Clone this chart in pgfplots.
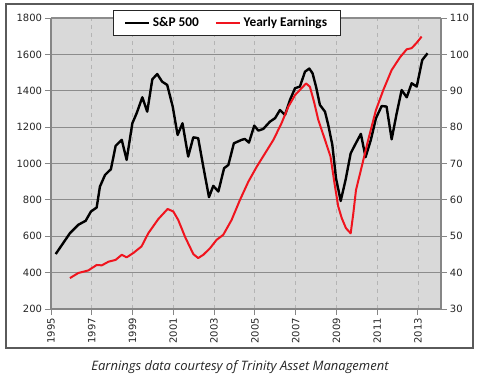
\documentclass[border=0pt]{standalone}
\usepackage{fontspec}
\setmainfont{DejaVu Sans}
\newfontfamily\legfont{Carlito}
\newfontfamily\capfont{Open Sans}
\usepackage{pgfplots}
\pgfplotsset{compat=1.18}
\definecolor{plotbg}{HTML}{D9D9D9}
\definecolor{hgrid}{HTML}{8C8C8C}
\definecolor{vgrid}{HTML}{B4B4B4}
\definecolor{axgray}{HTML}{868686}
\definecolor{frame}{HTML}{5A5A5A}
\definecolor{earn}{HTML}{F0141E}

\pgfplotstableread{
x y
1995.23 502
1995.93 617
1996.34 663
1996.70 685
1996.96 736
1997.24 758
1997.40 873
1997.65 937
1997.94 969
1998.17 1097
1998.47 1130
1998.71 1020
1998.99 1221
1999.20 1276
1999.48 1364
1999.72 1285
1999.97 1463
2000.21 1492
2000.45 1450
2000.70 1432
2000.97 1313
2001.21 1157
2001.45 1221
2001.73 1038
2001.98 1144
2002.22 1139
2002.47 983
2002.75 815
2002.96 877
2003.21 846
2003.49 974
2003.70 992
2003.97 1111
2004.35 1130
2004.51 1135
2004.71 1115
2004.97 1208
2005.17 1181
2005.41 1190
2005.74 1230
2005.99 1249
2006.23 1294
2006.48 1267
2006.72 1349
2006.97 1414
2007.21 1423
2007.46 1505
2007.67 1522
2007.83 1496
2008.00 1423
2008.19 1322
2008.44 1285
2008.60 1212
2008.80 1102
2008.98 919
2009.21 794
2009.45 910
2009.70 1056
2009.91 1102
2010.20 1163
2010.43 1035
2010.69 1130
2010.94 1249
2011.22 1316
2011.46 1313
2011.71 1133
2011.95 1272
2012.20 1404
2012.45 1364
2012.69 1441
2012.94 1423
2013.21 1569
2013.47 1606
}\spdata

\pgfplotstableread{
x y
1995.93 38.5
1996.34 39.9
1996.83 40.6
1997.24 42.1
1997.49 42.0
1997.82 43.0
1998.17 43.5
1998.47 44.9
1998.71 44.2
1999.04 45.4
1999.44 47.2
1999.77 50.8
2000.26 54.7
2000.72 57.5
2001.00 56.8
2001.24 54.5
2001.57 49.9
2001.98 45.1
2002.22 44.0
2002.47 44.9
2002.80 46.7
2003.12 49.0
2003.45 50.4
2003.86 54.5
2004.27 60.0
2004.68 65.0
2005.09 69.1
2005.50 72.8
2005.91 76.5
2006.31 81.1
2006.64 85.6
2006.97 88.8
2007.29 90.7
2007.51 92.0
2007.70 91.1
2007.90 87.0
2008.11 82.0
2008.44 76.5
2008.71 71.9
2008.93 63.7
2009.09 58.2
2009.26 55.0
2009.47 52.2
2009.70 50.8
2009.83 56.3
2009.96 62.7
2010.24 69.1
2010.56 76.5
2010.94 84.7
2011.30 90.2
2011.71 95.7
2012.12 99.2
2012.45 101.4
2012.69 101.7
2012.94 103.2
2013.18 104.9
}\earndata

\begin{document}
\begin{tikzpicture}
\path[fill=white] (0pt,0pt) rectangle (360pt,282pt);
\draw[frame, line width=1.1pt] (4.5pt,21pt) rectangle (354.75pt,279pt);
\node[font=\capfont\itshape\fontsize{9.75}{11}\selectfont, text=black!85] at (180pt,6.75pt) {Earnings data courtesy of Trinity Asset Management};

\begin{axis}[
  at={(38.25pt,50.25pt)}, anchor=south west,
  scale only axis, width=292.5pt, height=218.25pt,
  xmin=1995, xmax=2014.13, ymin=200, ymax=1800,
  axis background/.style={fill=plotbg},
  axis x line*=bottom, axis y line*=left,
  axis line style={axgray, line width=0.8pt},
  xtick={1995,1997,...,2013},
  ytick={200,400,...,1800},
  xticklabels={1995,1997,1999,2001,2003,2005,2007,2009,2011,2013},
  tick align=outside, major tick length=4.5pt,
  tick style={axgray, line width=0.7pt},
  /pgf/number format/assume math mode=true,
  /pgf/number format/1000 sep={},
  ticklabel style={font=\fontsize{7.5}{9}\selectfont, text=black!85},
  xticklabel style={rotate=90, anchor=east, inner sep=2pt},
  yticklabel style={inner sep=2pt},
  xmajorgrids, ymajorgrids,
  major x grid style={vgrid, dashed, line width=0.6pt},
  major y grid style={hgrid, line width=0.9pt},
  clip=false,
]
\addplot[black, line width=1.8pt, line join=round] table[x=x,y=y] {\spdata};
\end{axis}

\begin{axis}[
  at={(38.25pt,50.25pt)}, anchor=south west,
  scale only axis, width=292.5pt, height=218.25pt,
  xmin=1995, xmax=2014.13, ymin=30, ymax=110,
  axis x line=none, axis y line*=right,
  axis line style={axgray, line width=0.8pt},
  ytick={30,40,...,110},
  tick align=outside, major tick length=4.5pt,
  tick style={axgray, line width=0.7pt},
  /pgf/number format/assume math mode=true,
  ticklabel style={font=\fontsize{7.5}{9}\selectfont, text=black!85},
  yticklabel style={inner sep=2pt},
  legend columns=2,
  legend style={at={(0.451,0.983)}, anchor=center, draw=black!85, line width=0.9pt,
    fill=white, font=\legfont\bfseries\fontsize{10}{12}\selectfont,
    inner xsep=8pt, inner ysep=3pt,
    /tikz/every even column/.append style={column sep=10pt}},
  legend image code/.code={\draw[#1, line width=1.6pt] (0pt,0pt) -- (18pt,0pt);},
]
\addlegendimage{black}
\addlegendentry{S\&P 500}
\addplot[earn, line width=1.5pt, line join=round] table[x=x,y=y] {\earndata};
\addlegendentry{Yearly Earnings}
\end{axis}
\end{tikzpicture}
\end{document}
